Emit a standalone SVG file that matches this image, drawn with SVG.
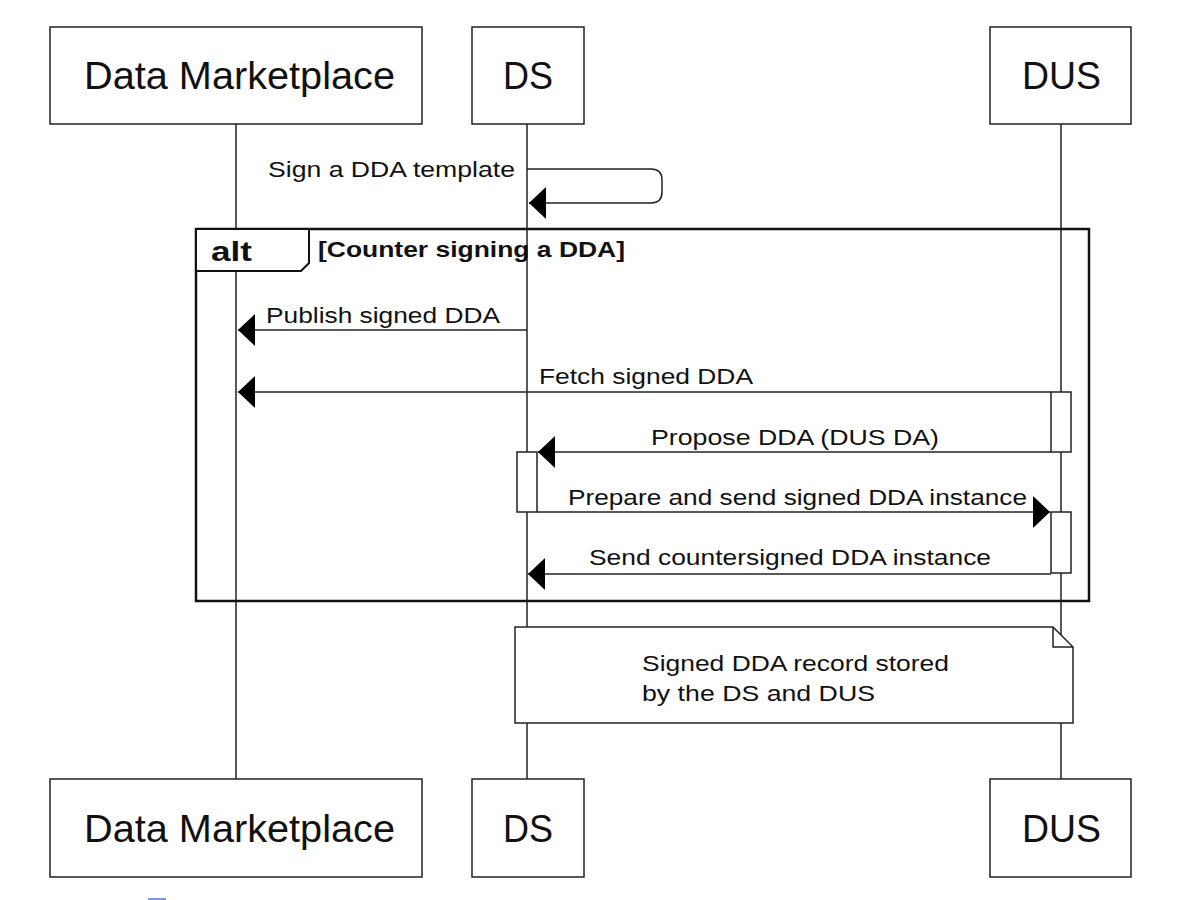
<svg xmlns="http://www.w3.org/2000/svg" width="1184" height="900" viewBox="0 0 1184 900">
<style>
.box{fill:#fff;stroke:#222;stroke-width:1.5}
.life{stroke:#222;stroke-width:1.5;fill:none}
.msg{stroke:#222;stroke-width:1.5;fill:none;marker-end:url(#ah)}
.act{fill:#fff;stroke:#222;stroke-width:1.5}
.pname{font-family:"Liberation Sans",Arial,sans-serif;font-size:38px;fill:#111}
.mtxt{font-family:"Liberation Sans",Arial,sans-serif;font-size:22.5px;fill:#111}
.bold{font-family:"Liberation Sans",Arial,sans-serif;font-weight:bold;fill:#111}
</style>
<defs>
<marker id="ah" viewBox="0 0 17 32" refX="17" refY="16" markerWidth="17" markerHeight="32" markerUnits="userSpaceOnUse" orient="auto">
<path d="M0,0 L17,16 L0,32 Z" fill="#000"/>
</marker>
</defs>
<rect width="1184" height="900" fill="#fff"/>
<g id="lifelines">
<line class="life" x1="236" y1="124" x2="236" y2="779"/>
<line class="life" x1="527" y1="124" x2="527" y2="779"/>
<line class="life" x1="1061" y1="124" x2="1061" y2="779"/>
</g>
<g id="participant-dm-top">
<rect class="box" x="50" y="27" width="372" height="97"/>
<text class="pname" x="84" y="89" textLength="311" lengthAdjust="spacingAndGlyphs">Data Marketplace</text>
</g>
<g id="participant-ds-top">
<rect class="box" x="472" y="27" width="112" height="97"/>
<text class="pname" x="503" y="89" textLength="50" lengthAdjust="spacingAndGlyphs">DS</text>
</g>
<g id="participant-dus-top">
<rect class="box" x="990" y="27" width="141" height="97"/>
<text class="pname" x="1022" y="89" textLength="79" lengthAdjust="spacingAndGlyphs">DUS</text>
</g>
<g id="participant-dm-bottom">
<rect class="box" x="50" y="779" width="372" height="98"/>
<text class="pname" x="84" y="842" textLength="311" lengthAdjust="spacingAndGlyphs">Data Marketplace</text>
</g>
<g id="participant-ds-bottom">
<rect class="box" x="472" y="779" width="112" height="98"/>
<text class="pname" x="503" y="842" textLength="50" lengthAdjust="spacingAndGlyphs">DS</text>
</g>
<g id="participant-dus-bottom">
<rect class="box" x="990" y="779" width="141" height="98"/>
<text class="pname" x="1022" y="842" textLength="79" lengthAdjust="spacingAndGlyphs">DUS</text>
</g>
<g id="alt-frame">
<rect x="196" y="229" width="893" height="372" fill="none" stroke="#111" stroke-width="2.5"/>
<path d="M196,229 H309 V263 L301,271 H196 Z" fill="#fff" stroke="#111" stroke-width="2"/>
<text class="bold" x="211" y="261" font-size="28" textLength="41" lengthAdjust="spacingAndGlyphs">alt</text>
<text class="bold" x="318" y="257" font-size="22" textLength="307" lengthAdjust="spacingAndGlyphs">[Counter signing a DDA]</text>
</g>
<g id="activations">
<rect class="act" x="1051" y="392" width="20" height="60"/>
<rect class="act" x="517" y="452" width="20" height="60"/>
<rect class="act" x="1051" y="512" width="20" height="61"/>
</g>
<g id="connectors">
<path class="msg" d="M527,169 H651 Q662,169 662,180 V192 Q662,203 651,203 H529"/>
<line class="msg" x1="527" y1="330" x2="238" y2="330"/>
<line class="msg" x1="1051" y1="392" x2="238" y2="392"/>
<line class="msg" x1="1051" y1="452" x2="538" y2="452"/>
<line class="msg" x1="537" y1="512" x2="1050" y2="512"/>
<line class="msg" x1="1051" y1="574" x2="528" y2="574"/>
</g>
<g id="message-labels">
<text class="mtxt" x="268" y="177" textLength="247" lengthAdjust="spacingAndGlyphs">Sign a DDA template</text>
<text class="mtxt" x="266" y="323" textLength="234" lengthAdjust="spacingAndGlyphs">Publish signed DDA</text>
<text class="mtxt" x="539" y="384" textLength="214" lengthAdjust="spacingAndGlyphs">Fetch signed DDA</text>
<text class="mtxt" x="651" y="445" textLength="288" lengthAdjust="spacingAndGlyphs">Propose DDA (DUS DA)</text>
<text class="mtxt" x="568" y="505" textLength="459" lengthAdjust="spacingAndGlyphs">Prepare and send signed DDA instance</text>
<text class="mtxt" x="589" y="565" textLength="402" lengthAdjust="spacingAndGlyphs">Send countersigned DDA instance</text>
</g>
<g id="note">
<path d="M515,627 H1053 L1073,647 V723 H515 Z" fill="#fff" stroke="#222" stroke-width="1.5"/>
<path d="M1053,627 V647 H1073" fill="none" stroke="#222" stroke-width="1.5"/>
<text class="mtxt" x="642" y="671" textLength="307" lengthAdjust="spacingAndGlyphs">Signed DDA record stored</text>
<text class="mtxt" x="642" y="701" textLength="233" lengthAdjust="spacingAndGlyphs">by the DS and DUS</text>
</g>
<rect x="148" y="898" width="18" height="2" fill="#7b9be0"/>
</svg>
